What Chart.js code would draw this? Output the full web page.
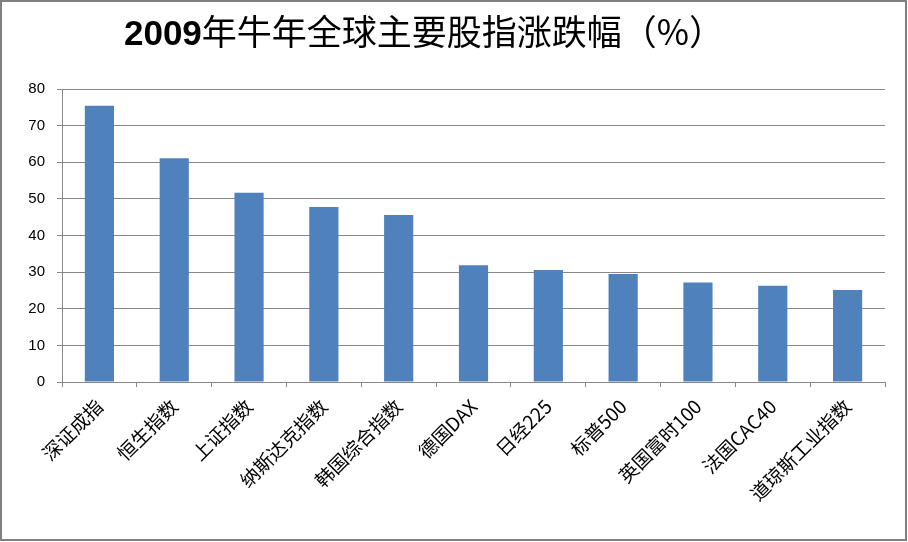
<!DOCTYPE html>
<html>
<head>
<meta charset="utf-8">
<script src="https://cdn.jsdelivr.net/npm/chart.js@4/dist/chart.umd.min.js"></script>
<style>
html,body{margin:0;padding:0;background:#fff;}
#wrap{width:908px;height:542px;position:relative;}
</style>
</head>
<body>
<div id="wrap"><canvas id="c" width="908" height="542"></canvas></div>
<script>
const titleYear = '2009';
const titleRest = '年牛年全球主要股指涨跌幅（%）';
const categories = ['深证成指','恒生指数','上证指数','纳斯达克指数','韩国综合指数','德国DAX','日经225','标普500','英国富时100','法国CAC40','道琼斯工业指数'];
const changes = [75.4, 61.1, 51.7, 47.8, 45.6, 31.9, 30.6, 29.5, 27.2, 26.3, 25.1];
const yTicks = [0, 10, 20, 30, 40, 50, 60, 70, 80];

const framePlugin = {
  id: 'frame',
  afterDraw(chart) {
    const ctx = chart.ctx;
    ctx.save();
    ctx.strokeStyle = '#808080';
    ctx.lineWidth = 2;
    ctx.strokeRect(1, 1, chart.width - 3, chart.height - 3);
    // title
    ctx.fillStyle = '#000';
    ctx.textBaseline = 'alphabetic';
    ctx.textAlign = 'left';
    const f1 = "bold 35px 'Liberation Sans', sans-serif";
    const f2 = "35px 'Noto Sans CJK SC'";
    ctx.font = f1;
    const w1 = ctx.measureText(titleYear).width;
    ctx.font = f2;
    const w2 = ctx.measureText(titleRest).width;
    const cx = 424;
    let x = cx - (w1 + w2) / 2;
    ctx.font = f1;
    ctx.fillText(titleYear, x, 45);
    ctx.font = f2;
    ctx.fillText(titleRest, x + w1, 45);
    ctx.restore();
  }
};

new Chart(document.getElementById('c'), {
  type: 'bar',
  data: {
    labels: categories,
    datasets: [{
      data: changes,
      backgroundColor: '#4F81BD',
      borderWidth: 0,
      barPercentage: 0.39,
      categoryPercentage: 1
    }]
  },
  options: {
    responsive: false,
    animation: false,
    devicePixelRatio: 1,
    layout: { padding: { left: 0, right: 23, top: 89, bottom: 0 } },
    plugins: { legend: { display: false }, title: { display: false }, tooltip: { enabled: false } },
    scales: {
      x: {
        afterFit(s) { s.height = 160; },
        grid: { drawOnChartArea: false, drawTicks: true, tickLength: 5, color: '#888888', offset: true },
        border: { color: '#888888', width: 1 },
        ticks: {
          color: '#000',
          font: { family: "'Noto Sans CJK SC'", size: 19 },
          minRotation: 45, maxRotation: 45, autoSkip: false, padding: 8
        }
      },
      y: {
        min: 0, max: 80,
        afterFit(s) { s.width = 62; },
        afterBuildTicks(s) { s.ticks = yTicks.map(v => ({ value: v })); },
        grid: { color: '#888888', tickLength: 5, drawTicks: true },
        border: { color: '#888888', width: 1 },
        ticks: {
          color: '#000',
          font: { family: "'Liberation Sans', sans-serif", size: 15 },
          padding: 12
        }
      }
    }
  },
  plugins: [framePlugin]
});
</script>
</body>
</html>
